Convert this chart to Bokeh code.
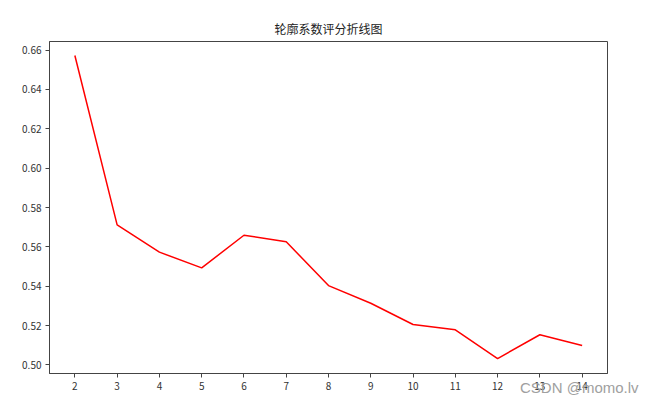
from bokeh.plotting import figure
from bokeh.models import FixedTicker, Range1d, NumeralTickFormatter, Div
from bokeh.layouts import column
from bokeh.embed import file_html
from bokeh.resources import INLINE

k_values = [2, 3, 4, 5, 6, 7, 8, 9, 10, 11, 12, 13, 14]
scores = [0.6573, 0.5712, 0.5573, 0.5493, 0.5659, 0.5626, 0.5403,
          0.5313, 0.5205, 0.5178, 0.5032, 0.5153, 0.5098]
y_ticks = [0.50, 0.52, 0.54, 0.56, 0.58, 0.60, 0.62, 0.64, 0.66]
watermark = "CSDN @momo.lv"

FONT = "Noto Sans CJK SC"

p = figure(width=642, height=395, output_backend="svg", toolbar_location=None,
           x_range=Range1d(1.4, 14.6), y_range=Range1d(0.4956, 0.6644),
           min_border_left=49, min_border_right=35, min_border_top=41,
           min_border_bottom=22)

p.title.text = "轮廓系数评分折线图"
p.title.align = "center"
p.title.text_font = FONT
p.title.text_font_size = "12px"
p.title.text_font_style = "normal"
p.title.text_color = "#222222"

p.line(k_values, scores, line_color="#ff0000", line_width=1.5)

p.xgrid.visible = False
p.ygrid.visible = False
p.outline_line_color = "#444444"
p.outline_line_width = 1

for ax in (p.xaxis[0], p.yaxis[0]):
    ax.axis_line_color = "#444444"
    ax.major_tick_line_color = "#444444"
    ax.major_tick_out = 4
    ax.major_tick_in = 0
    ax.minor_tick_out = 0
    ax.minor_tick_in = 0
    ax.major_label_text_font = FONT
    ax.major_label_text_font_size = "10px"
    ax.major_label_text_color = "#333333"
    ax.major_label_standoff = 4

p.xaxis.ticker = FixedTicker(ticks=k_values)
p.yaxis.ticker = FixedTicker(ticks=y_ticks)
p.yaxis.formatter = NumeralTickFormatter(format="0.00")

wm = Div(text=watermark, width=120, height=18, margin=(-16, 0, 0, 520),
         styles={"font-family": "Arial", "font-size": "15px",
                 "color": "#a0a0a0", "line-height": "18px",
                 "white-space": "nowrap", "position": "relative",
                 "z-index": "10"})

layout = column(p, wm, spacing=0)

open("out.html", "w").write(file_html(layout, INLINE))
